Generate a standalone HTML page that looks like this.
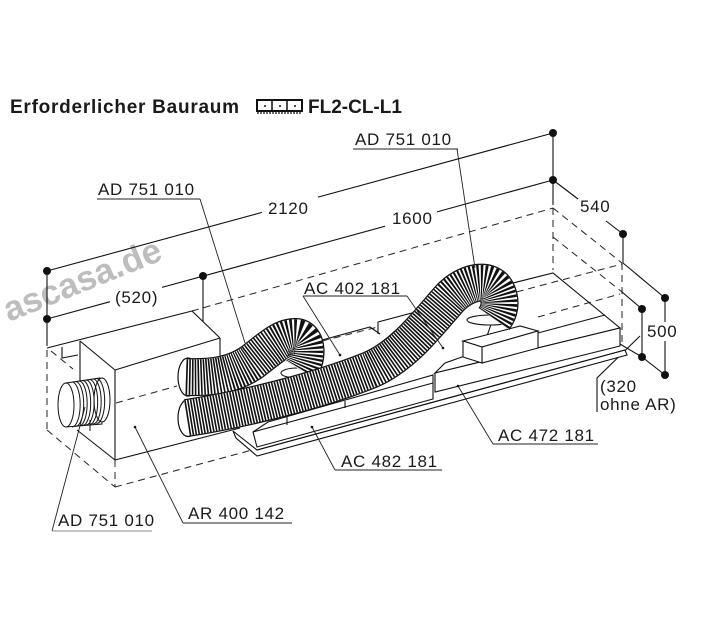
<!DOCTYPE html>
<html><head><meta charset="utf-8"><style>
html,body{margin:0;padding:0;background:#fff;}
svg{display:block;}
text{font-family:"Liberation Sans",Arial,sans-serif;fill:#1a1a1a;}
.l{font-size:17px;letter-spacing:0.7px;}
</style></head><body>
<svg width="703" height="640" viewBox="0 0 703 640" xmlns="http://www.w3.org/2000/svg">
<rect width="703" height="640" fill="#fff"/>

<!-- watermark -->
<text transform="translate(9,322) rotate(-22)" font-size="35" font-weight="bold" style="fill:#bdbdbd">ascasa.de</text>

<!-- title -->
<text x="10" y="113" font-size="19" font-weight="bold" letter-spacing="0.75">Erforderlicher Bauraum</text>
<g stroke="#111" fill="none">
<rect x="257" y="100" width="45" height="11" stroke-width="2"/>
<line x1="272" y1="100" x2="272" y2="111" stroke-width="1.5"/>
<line x1="287" y1="100" x2="287" y2="111" stroke-width="1.5"/>
<line x1="257" y1="113" x2="302" y2="113" stroke-width="1.2" stroke-dasharray="2 1"/>
</g>
<circle cx="265" cy="106" r="1" fill="#111"/><circle cx="280" cy="106" r="1" fill="#111"/><circle cx="295" cy="106" r="1" fill="#111"/>
<text x="308" y="113" font-size="19" font-weight="bold">FL2-CL-L1</text>

<!-- dimension lines -->
<g stroke="#111" stroke-width="1.1" fill="none">
<line x1="47" y1="271" x2="262" y2="212.4"/>
<line x1="318" y1="197.1" x2="553" y2="133"/>
<line x1="47" y1="319" x2="110" y2="301.7"/>
<line x1="162" y1="287.4" x2="385" y2="226.2"/>
<line x1="437" y1="211.9" x2="553" y2="180"/>
<line x1="47" y1="271" x2="47" y2="346"/>
<line x1="203" y1="276" x2="203" y2="322"/>
<line x1="553" y1="133" x2="553" y2="205"/>
<line x1="553" y1="180" x2="578" y2="199"/>
<line x1="606" y1="221" x2="623" y2="234"/>
<line x1="623" y1="234" x2="623" y2="263"/>
<line x1="623" y1="263" x2="665" y2="298"/>
<line x1="665" y1="298" x2="665" y2="322"/>
<line x1="665" y1="341" x2="665" y2="375"/>
<line x1="622" y1="292" x2="642" y2="309"/>
<line x1="642" y1="309" x2="642" y2="357"/>
<polyline points="620,344 642,357 665,375"/>
<polyline points="597,412 597,378 640,336"/>
</g>
<g fill="#111">
<circle cx="47" cy="271" r="4"/><circle cx="47" cy="319" r="4"/><circle cx="203" cy="276" r="4"/>
<circle cx="553" cy="133" r="4"/><circle cx="553" cy="180" r="4"/><circle cx="623" cy="234" r="4"/>
<circle cx="665" cy="298" r="4"/><circle cx="665" cy="375" r="4"/>
<circle cx="642" cy="309" r="4"/><circle cx="642" cy="357" r="4"/>
</g>

<!-- envelope dashed -->
<g stroke="#222" stroke-width="1" fill="none" stroke-dasharray="7 5">
<line x1="47" y1="350" x2="47" y2="430"/>
<line x1="47" y1="430" x2="115" y2="487"/>
<line x1="115" y1="460" x2="115" y2="487"/>
<line x1="115" y1="487" x2="252" y2="450"/>
<line x1="165" y1="427" x2="178" y2="424"/>
<line x1="322" y1="341" x2="378" y2="327"/>
<line x1="192" y1="311" x2="553" y2="208"/>
<line x1="553" y1="208" x2="622" y2="263"/>
<line x1="553" y1="208" x2="553" y2="270"/>
<line x1="622" y1="263" x2="622" y2="346"/>
<line x1="553" y1="237" x2="622" y2="292"/>
<line x1="51" y1="351" x2="73" y2="369"/>
</g>

<!-- AR box -->
<g stroke="#111" stroke-width="1.1" fill="none">
<polygon points="115,370 220,338 220,428 115,460" fill="#fff" stroke="none"/>
<line x1="47" y1="348" x2="192" y2="311"/>
<line x1="192" y1="311" x2="220" y2="338"/>
<line x1="80" y1="341" x2="115" y2="370"/>
<line x1="115" y1="370" x2="220" y2="338"/>
<line x1="80" y1="341" x2="80" y2="383"/>
<line x1="115" y1="370" x2="115" y2="460"/>
<line x1="220" y1="338" x2="220" y2="362"/>
<line x1="77" y1="430" x2="115" y2="460"/>
<line x1="115" y1="460" x2="240" y2="428"/>
<polyline points="62,347 62,358 78,355"/>
</g>
<g stroke="#222" stroke-width="1" fill="none" stroke-dasharray="7 5">
<line x1="116" y1="403" x2="177" y2="386"/>
</g>

<!-- bottom duct -->
<g stroke="#111" stroke-width="1" fill="none">
<path d="M66,383 L100,378 L102,424 L66,427 Z" fill="#fff"/>
<ellipse cx="102" cy="400" rx="8" ry="22" fill="#fff"/>
<path d="M72,382 a8,22 0 0 1 0,45"/>
<path d="M75.5,381.5 a8,22 0 0 1 0,45"/>
<path d="M79,381 a8,22 0 0 1 0,45"/>
<path d="M82.5,380.5 a8,22 0 0 1 0,45"/>
<path d="M86,380 a8,22 0 0 1 0,45"/>
<path d="M89.5,379.5 a8,22 0 0 1 0,45"/>
<path d="M93,379 a8,22 0 0 1 0,45"/>
<path d="M96.5,378.5 a8,22 0 0 1 0,45"/>
<ellipse cx="66" cy="405" rx="8" ry="22" fill="#fff"/>
<line x1="90" y1="420" x2="90" y2="431"/>
</g>

<!-- trays / blocks -->
<g stroke="#111" stroke-width="1.1" fill="#fff">
<polygon points="233,431 257,450 625,350 627,355 257,456 236,438"/>
<line x1="257" y1="450" x2="625" y2="350"/>
<polygon points="253,432 268,422 433,375 433,399 257,447"/>
<line x1="253" y1="432" x2="433" y2="383"/>
<line x1="287" y1="417" x2="287" y2="425"/>
<line x1="345" y1="401" x2="345" y2="408"/>
<polyline points="300,346 370,327 380,334" fill="none"/>
<polyline points="378,334 378,322 412,313 420,319" fill="none"/>
<polygon points="505,285 553,273 620,328 435,373 445,363 482,350"/>
<line x1="538" y1="333" x2="605" y2="315"/>
<polygon points="435,373 620,328 620,346 435,392"/>
<polygon points="463,341 520,326 538,331 482,347"/>
<polygon points="482,347 538,331 538,348 482,363"/>
<polygon points="463,341 482,347 482,363 463,357"/>
</g>
<g stroke="#222" stroke-width="1" fill="none" stroke-dasharray="7 5">
<line x1="538" y1="317" x2="620" y2="294"/>
<line x1="505" y1="295" x2="622" y2="264"/>
</g>

<!-- rings -->
<g stroke="#111" stroke-width="1.1" fill="#fff">
<ellipse cx="297" cy="373" rx="16" ry="5"/>
<ellipse cx="490" cy="320" rx="23" ry="5"/>
</g>

<!-- upper hose -->
<ellipse cx="188" cy="377" rx="10" ry="19" fill="#fff" stroke="#111" stroke-width="1.2"/>
<g fill="none">
<path d="M186,377 C215,378 235,374 252,362 C268,350 282,336 296,337 C308,338 308,358 300,370" stroke="#111" stroke-width="38"/>
<path d="M186,377 C215,378 235,374 252,362 C268,350 282,336 296,337 C308,338 308,358 300,370" stroke="#fff" stroke-width="35.5"/>
<path d="M186,377 C215,378 235,374 252,362 C268,350 282,336 296,337 C308,338 308,358 300,370" stroke="#111" stroke-width="35.5" stroke-dasharray="1.6 1.3"/>
</g>
<!-- lower hose -->
<ellipse cx="188" cy="418" rx="10" ry="18.5" fill="#fff" stroke="#111" stroke-width="1.2"/>
<g fill="none">
<path d="M187,418 C250,408 320,390 370,370 C405,355 430,320 450,298 C465,282 490,276 497,292 C502,303 499,312 494,319" stroke="#111" stroke-width="38"/>
<path d="M187,418 C250,408 320,390 370,370 C405,355 430,320 450,298 C465,282 490,276 497,292 C502,303 499,312 494,319" stroke="#fff" stroke-width="35.5"/>
<path d="M187,418 C250,408 320,390 370,370 C405,355 430,320 450,298 C465,282 490,276 497,292 C502,303 499,312 494,319" stroke="#111" stroke-width="35.5" stroke-dasharray="1.6 1.3"/>
</g>

<!-- leaders -->
<g stroke="#222" stroke-width="0.9" fill="none">
<line x1="353" y1="149" x2="458" y2="149"/>
<line x1="457" y1="149" x2="475" y2="268"/>
<line x1="97" y1="199" x2="200" y2="199"/>
<line x1="200" y1="199" x2="245" y2="343"/>
<line x1="303" y1="296" x2="407" y2="296"/>
<line x1="303" y1="296" x2="340" y2="355"/>
<line x1="407" y1="296" x2="443" y2="348"/>
<line x1="493" y1="444" x2="598" y2="444"/>
<line x1="493" y1="444" x2="458" y2="386"/>
<line x1="335" y1="470" x2="442" y2="470"/>
<line x1="335" y1="470" x2="312" y2="427"/>
<line x1="183" y1="523" x2="292" y2="523"/>
<line x1="183" y1="523" x2="135" y2="427"/>
<line x1="52" y1="531" x2="85" y2="407"/>
<line x1="52" y1="531" x2="152" y2="531" stroke="#888"/>
</g>
<g fill="#111">
<circle cx="340" cy="355" r="1.3"/><circle cx="443" cy="348" r="1.3"/><circle cx="458" cy="386" r="1.3"/>
<circle cx="312" cy="427" r="1.3"/><circle cx="135" cy="427" r="1.3"/>
</g>

<!-- labels -->
<text class="l" x="355" y="145">AD 751 010</text>
<text class="l" x="98" y="195">AD 751 010</text>
<text class="l" x="268" y="214">2120</text>
<text class="l" x="392" y="224">1600</text>
<text class="l" x="580" y="212">540</text>
<text class="l" x="115" y="303">(520)</text>
<text class="l" x="304" y="294">AC 402 181</text>
<text class="l" x="647" y="337">500</text>
<text class="l" x="600" y="392">(320</text>
<text class="l" x="600" y="410">ohne AR)</text>
<text class="l" x="498" y="441">AC 472 181</text>
<text class="l" x="341" y="467">AC 482 181</text>
<text class="l" x="188" y="519">AR 400 142</text>
<text class="l" x="58" y="526">AD 751 010</text>
</svg>
</body></html>
